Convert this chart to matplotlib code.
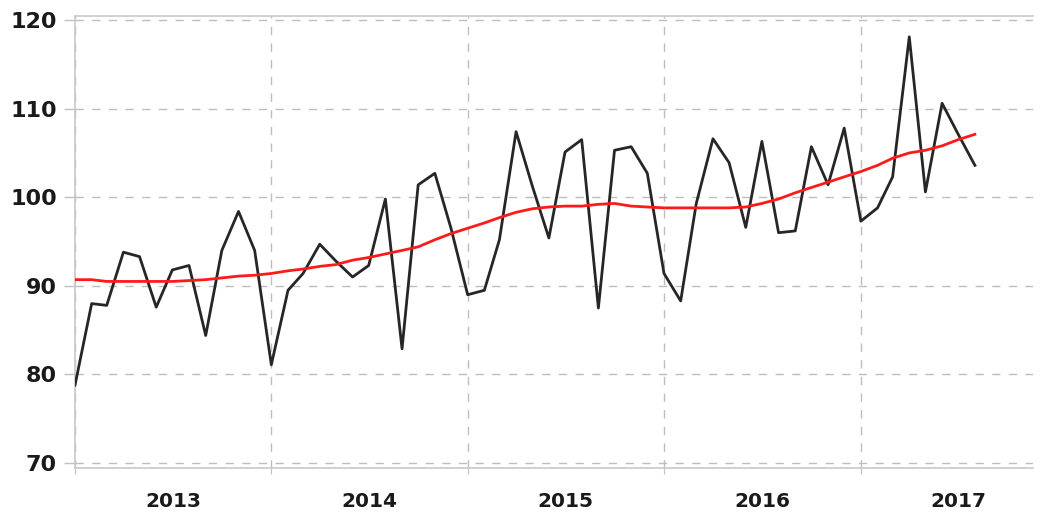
import numpy as np
import pandas as pd
import matplotlib
matplotlib.use("Agg")
from matplotlib import pyplot as plt
import matplotlib.dates as mdates

# monthly index, Jan 2013 .. Aug 2017
months = pd.date_range("2013-01-01", periods=56, freq="MS")

series = [
  78.8, 88.0, 87.8, 93.8, 93.3, 87.6, 91.8, 92.3, 84.4, 94.0, 98.4, 94.0,
  81.1, 89.5, 91.4, 94.7, 92.8, 91.0, 92.3, 99.8, 82.9, 101.4, 102.7, 96.5,
  89.0, 89.5, 95.2, 107.4, 101.3, 95.4, 105.1, 106.5, 87.5, 105.3, 105.7, 102.7,
  91.4, 88.3, 99.3, 106.6, 103.9, 96.6, 106.3, 96.0, 96.2, 105.7, 101.4, 107.8,
  97.3, 98.8, 102.3, 118.1, 100.6, 110.6, 107.1, 103.6,
]

trend = [
  90.7, 90.7, 90.5, 90.5, 90.5, 90.5, 90.5, 90.6, 90.7, 90.9, 91.1, 91.2,
  91.4, 91.7, 91.9, 92.2, 92.4, 92.9, 93.2, 93.6, 94.0, 94.4, 95.2, 95.9,
  96.5, 97.1, 97.7, 98.3, 98.7, 98.9, 99.0, 99.0, 99.2, 99.3, 99.0, 98.9,
  98.8, 98.8, 98.8, 98.8, 98.8, 98.9, 99.3, 99.8, 100.5, 101.1, 101.7, 102.3,
  102.9, 103.6, 104.4, 105.0, 105.3, 105.8, 106.5, 107.1,
]

year_labels = ["2013", "2014", "2015", "2016", "2017"]
y_ticks = [70, 80, 90, 100, 110, 120]

fig = plt.figure(figsize=(10.47, 5.16), dpi=100)
ax = fig.add_axes([75/1047, 48/516, 958/1047, 452/516])

ax.plot(months, series, color="#262626", lw=2.0, zorder=3)
ax.plot(months, trend, color="#ff1a1a", lw=2.0, zorder=4)

ax.set_xlim(pd.Timestamp("2013-01-01"), pd.Timestamp("2017-11-17"))
ax.set_ylim(69.45, 120.45)

# year boundaries carry the grid, mid-years carry the labels
ax.xaxis.set_major_locator(mdates.YearLocator(month=1, day=1))
ax.xaxis.set_major_formatter(plt.NullFormatter())
mid_years = [pd.Timestamp(y + "-07-02") for y in year_labels]
ax.set_xticks(mid_years, minor=True)
ax.set_xticklabels(year_labels, minor=True, fontweight="bold")
ax.tick_params(axis="x", which="minor", length=0, pad=17,
               labelsize=14.5, labelcolor="#1a1a1a")
ax.tick_params(axis="x", which="major", length=4, color="#c0c0c0")

ax.set_yticks(y_ticks)
ax.set_yticklabels([str(v) for v in y_ticks], fontweight="bold")
ax.tick_params(axis="y", length=8, width=1, color="#c0c0c0",
               labelsize=16, labelcolor="#1a1a1a", pad=5)

ax.grid(True, which="major", color="#bdbdbd", ls=(0, (6, 6)), lw=1)

for side in ["left", "bottom", "top"]:
  ax.spines[side].set_color("#c8c8c8")
  ax.spines[side].set_linewidth(1.2)
ax.spines["right"].set_visible(False)

fig.savefig("out.png", dpi=100)
